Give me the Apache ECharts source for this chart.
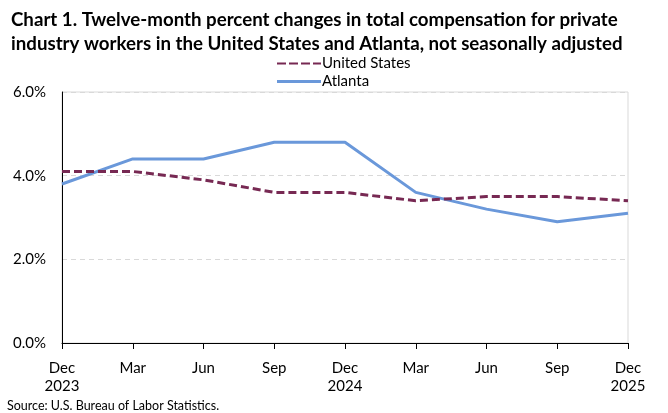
<!DOCTYPE html>
<html>
<head>
<meta charset="utf-8">
<script src="https://cdn.jsdelivr.net/npm/echarts@6/dist/echarts.min.js"></script>
<style>
  html, body { margin: 0; padding: 0; background: #fff; }
  #chart { width: 668px; height: 413px; }
</style>
</head>
<body>
<div id="chart"></div>
<script>
// quarters, Dec 2023 to Dec 2025
var categories = ['Dec\n2023', 'Mar', 'Jun', 'Sep', 'Dec\n2024', 'Mar', 'Jun', 'Sep', 'Dec\n2025'];
var unitedStates = [4.1, 4.1, 3.9, 3.6, 3.6, 3.4, 3.5, 3.5, 3.4];
var atlanta = [3.8, 4.4, 4.4, 4.8, 4.8, 3.6, 3.2, 2.9, 3.1];

var font = 'Lato, "Open Sans", sans-serif';
var chart = echarts.init(document.getElementById('chart'));

chart.setOption({
  animation: false,
  textStyle: { fontFamily: font },
  title: {
    text: 'Chart 1. Twelve-month percent changes in total compensation for private\nindustry workers in the United States and Atlanta, not seasonally adjusted',
    left: 6,
    top: 3,
    textStyle: { fontSize: 18.7, fontWeight: 'bold', color: '#000', lineHeight: 24, fontFamily: font }
  },
  legend: {
    orient: 'vertical',
    left: 272,
    top: 51,
    itemWidth: 44,
    itemHeight: 3,
    itemGap: 3,
    textStyle: { fontSize: 15, color: '#000', padding: [0, 0, 0, -4] },
    data: [
      { name: 'United States', icon: 'path://M0,0h9v2h-9zM12,0h9v2h-9zM24,0h9v2h-9zM36,0h8v2h-8z' },
      { name: 'Atlanta', icon: 'rect' }
    ]
  },
  grid: {
    left: 62, right: 40, top: 92, bottom: 70,
    show: true, borderColor: '#d9d9d9', borderWidth: 1
  },
  xAxis: {
    type: 'category',
    data: categories,
    boundaryGap: false,
    axisLine: { lineStyle: { color: '#000', width: 1 } },
    axisTick: { show: true, alignWithLabel: true, length: 6, lineStyle: { color: '#000' } },
    axisLabel: { fontSize: 15, color: '#000', lineHeight: 18, margin: 16 }
  },
  yAxis: {
    type: 'value',
    min: 0, max: 6, interval: 2,
    axisLine: { show: true, lineStyle: { color: '#000', width: 1 } },
    axisTick: { show: false },
    splitLine: { lineStyle: { color: '#d9d9d9', type: [5, 4] } },
    axisLabel: {
      fontSize: 15, color: '#000', margin: 16,
      formatter: function (v) { return v.toFixed(1) + '%'; }
    }
  },
  series: [
    {
      name: 'United States',
      type: 'line',
      data: unitedStates,
      symbol: 'none',
      itemStyle: { color: '#772953' },
      lineStyle: { color: '#772953', width: 3, type: [8, 4] },
      z: 3
    },
    {
      name: 'Atlanta',
      type: 'line',
      data: atlanta,
      symbol: 'none',
      itemStyle: { color: '#6a98da' },
      lineStyle: { color: '#6a98da', width: 3 },
      z: 2
    }
  ],
  graphic: [
    {
      type: 'text',
      left: 7,
      top: 399,
      style: { text: 'Source: U.S. Bureau of Labor Statistics.', fontSize: 12.5, fill: '#000', fontFamily: font }
    }
  ]
});
</script>
</body>
</html>
